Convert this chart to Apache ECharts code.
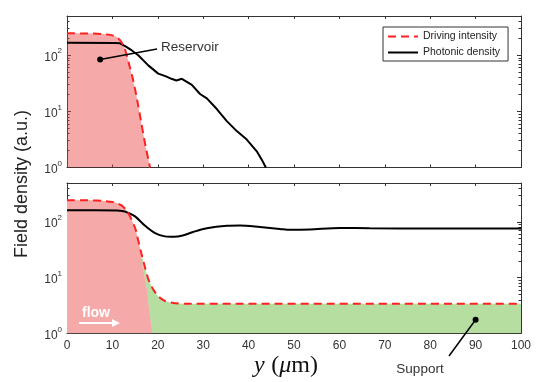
<!DOCTYPE html>
<html>
<head>
<meta charset="utf-8">
<script src="https://cdn.jsdelivr.net/npm/echarts@6/dist/echarts.min.js"></script>
<style>
  html, body { margin: 0; padding: 0; background: #fff; }
  #chart { width: 540px; height: 382px; }
</style>
</head>
<body>
<div id="chart"></div>
<script>
// position y in µm, field density in a.u.
const majorTicks = [1, 10, 100];
const minorTicks = [2, 3, 4, 5, 6, 7, 8, 9, 20, 30, 40, 50, 60, 70, 80, 90, 200, 300, 400, 500];

// top panel: reservoir only
const topDriving = [[0, 246], [5, 244], [8, 238], [10, 226], [11, 210], [11.8, 180], [12.5, 145],
  [13.1, 105], [13.7, 68], [14.5, 38], [15.4, 17], [16.4, 6], [17.3, 2.4], [17.9, 1.4], [18.3, 1]];
const topPhotonic = [[0, 167], [10.6, 166], [11.7, 163], [12.8, 145], [14.2, 123], [15.7, 100],
  [17.9, 66], [20.1, 47], [21.8, 42], [23, 38], [24.1, 35.5], [25.3, 38], [26.3, 34], [27.5, 29.6],
  [29.3, 20.4], [30.8, 17], [33, 11], [35.2, 6.7], [37.4, 4.45], [39.6, 3.15], [41.8, 1.94],
  [42.9, 1.38], [43.8, 1.0]];

// bottom panel: reservoir + support
const bottomReservoir = [[0, 246], [5, 244], [8, 238], [10, 228], [11, 218], [12, 198], [13, 165],
  [13.9, 125], [15.1, 72], [16.1, 32], [16.8, 14], [17.6, 6], [18.1, 2.6], [18.7, 1.15], [18.8, 1]];
const bottomDriving = [[0, 246], [5, 244], [8, 238], [10, 228], [11, 218], [12, 198], [13, 165],
  [13.9, 125], [15.1, 74], [15.6, 50], [16.4, 27], [17.2, 15], [17.9, 9.4], [19, 6.1], [20.1, 4.6],
  [21.6, 3.8], [23.4, 3.5], [26, 3.4], [100, 3.4]];
const bottomPhotonic = [[0, 162], [11, 161], [12.5, 155], [13.5, 145], [15, 126], [17.2, 85],
  [19.4, 63], [21.6, 55], [23.5, 54], [25.5, 57], [27.8, 66], [30.8, 77], [35.2, 85], [38.1, 86],
  [42.5, 81], [46.9, 75], [49.1, 72], [53.5, 73], [60.1, 78], [66.7, 77], [80, 76], [100, 76]];

const reservoirDot = [7.3, 84];
const supportDot = [90, 1.75];

const frame = '#333';
const sans = 'Liberation Sans, Arial, sans-serif';
const redFill = 'rgba(232, 60, 60, 0.44)';
const green = '#b6dea1';

const chart = echarts.init(document.getElementById('chart'));

const xAxisFor = (gridIndex, position, showLabels) => ({
  type: 'value', gridIndex, position, min: 0, max: 100, interval: 10,
  axisLine: { show: true, onZero: false, lineStyle: { color: frame, width: 1 } },
  axisTick: { show: true, inside: true, length: 3, lineStyle: { color: frame } },
  axisLabel: { show: showLabels, margin: 6, fontSize: 12, color: '#333', fontFamily: sans },
  splitLine: { show: false }
});

const yAxisFor = (gridIndex, position, minor) => ({
  type: 'log', logBase: 10, gridIndex, position, min: 1, max: 500,
  axisLine: { show: !minor, onZero: false, lineStyle: { color: frame, width: 1 } },
  axisTick: { show: true, inside: true, length: minor ? 2.5 : 4, lineStyle: { color: frame },
    customValues: minor ? minorTicks : majorTicks },
  axisLabel: {
    show: position === 'left' && !minor,
    customValues: majorTicks,
    margin: 5,
    formatter: v => '{b|10}{s|' + Math.round(Math.log10(v)) + '}',
    rich: {
      b: { fontSize: 12, color: '#333', fontFamily: sans, lineHeight: 16, verticalAlign: 'bottom' },
      s: { fontSize: 8, color: '#333', fontFamily: sans, lineHeight: 16, verticalAlign: 'top', padding: [0, 0, 8, 0] }
    }
  },
  splitLine: { show: false }
});

const lineSeries = (name, data, xi, yi, extra) => Object.assign({
  name, type: 'line', data, xAxisIndex: xi, yAxisIndex: yi,
  showSymbol: false, symbol: 'none', animation: false, silent: true
}, extra);

chart.setOption({
  animation: false,
  grid: [
    { left: 67, top: 16, width: 454, height: 151.5 },
    { left: 67, top: 183, width: 454, height: 150.3 }
  ],
  xAxis: [
    xAxisFor(0, 'bottom', false), xAxisFor(0, 'top', false),
    xAxisFor(1, 'bottom', true), xAxisFor(1, 'top', false)
  ],
  yAxis: [
    yAxisFor(0, 'left', false), yAxisFor(0, 'left', true),
    yAxisFor(0, 'right', false), yAxisFor(0, 'right', true),
    yAxisFor(1, 'left', false), yAxisFor(1, 'left', true),
    yAxisFor(1, 'right', false), yAxisFor(1, 'right', true)
  ],
  legend: {
    data: ['Driving intensity', 'Photonic density'],
    orient: 'vertical', left: 383, top: 27,
    padding: [4, 8, 3, 4], itemWidth: 30, itemHeight: 10, itemGap: 5,
    backgroundColor: '#fff', borderColor: frame, borderWidth: 1, borderRadius: 0,
    selectedMode: false,
    itemStyle: { opacity: 0 },
    textStyle: { fontSize: 10.5, color: '#222', fontFamily: sans }
  },
  series: [
    // top panel
    lineSeries('Photonic density', topPhotonic, 0, 0, { lineStyle: { color: '#000', width: 2 }, itemStyle: { color: '#000' } }),
    lineSeries('reservoir top', topDriving, 0, 0, { smooth: 0.2, lineStyle: { width: 0 }, areaStyle: { color: redFill, opacity: 1, origin: 'start' } }),
    lineSeries('Driving intensity', topDriving, 0, 0, { smooth: 0.2, lineStyle: { color: '#ff2020', width: 2, type: [8, 5] }, itemStyle: { color: '#ff2020' } }),
    // bottom panel
    lineSeries('support', bottomDriving, 2, 4, { smooth: 0.2, lineStyle: { width: 0 }, areaStyle: { color: green, opacity: 1, origin: 'start' } }),
    lineSeries('mask', bottomReservoir, 2, 4, { smooth: 0.2, lineStyle: { width: 0 }, areaStyle: { color: '#fff', opacity: 1, origin: 'start' } }),
    lineSeries('Photonic density', bottomPhotonic, 2, 4, { smooth: 0.3, lineStyle: { color: '#000', width: 2 }, itemStyle: { color: '#000' } }),
    lineSeries('reservoir bottom', bottomReservoir, 2, 4, { smooth: 0.2, lineStyle: { width: 0 }, areaStyle: { color: redFill, opacity: 1, origin: 'start' } }),
    lineSeries('Driving intensity', bottomDriving, 2, 4, { smooth: 0.2, lineStyle: { color: '#ff2020', width: 2, type: [8, 5] }, itemStyle: { color: '#ff2020' } })
  ]
});

// annotations, dots placed from data coordinates
const rDot = chart.convertToPixel({ xAxisIndex: 0, yAxisIndex: 0 }, reservoirDot);
const sDot = chart.convertToPixel({ xAxisIndex: 2, yAxisIndex: 4 }, supportDot);

chart.setOption({
  graphic: [
    {
      type: 'text', x: 22, y: 184, rotation: Math.PI / 2,
      style: { text: 'Field density (a.u.)', font: '18px ' + sans, fill: '#222', align: 'center', verticalAlign: 'middle' }
    },
    {
      type: 'text', x: 286, y: 366,
      style: {
        text: '{i|y}  {r|(}{i|μ}{r|m)}', align: 'center', verticalAlign: 'middle',
        rich: {
          i: { font: 'italic 24px Liberation Serif, serif', fill: '#111' },
          r: { font: '24px Liberation Serif, serif', fill: '#111' }
        }
      }
    },
    { type: 'line', shape: { x1: rDot[0], y1: rDot[1], x2: 157, y2: 49 }, style: { stroke: '#000', lineWidth: 1.5 }, z: 100 },
    { type: 'circle', shape: { cx: rDot[0], cy: rDot[1], r: 3 }, style: { fill: '#000' }, z: 100 },
    { type: 'text', x: 161, y: 47, style: { text: 'Reservoir', font: '13.5px ' + sans, fill: '#333', verticalAlign: 'middle' }, z: 100 },
    { type: 'line', shape: { x1: sDot[0], y1: sDot[1], x2: 449, y2: 356 }, style: { stroke: '#000', lineWidth: 1.5 }, z: 100 },
    { type: 'circle', shape: { cx: sDot[0], cy: sDot[1], r: 3 }, style: { fill: '#000' }, z: 100 },
    { type: 'text', x: 420, y: 369, style: { text: 'Support', font: '13.5px ' + sans, fill: '#333', align: 'center', verticalAlign: 'middle' }, z: 100 },
    { type: 'text', x: 96, y: 313, style: { text: 'flow', font: 'bold 14px ' + sans, fill: '#fff', align: 'center', verticalAlign: 'middle' }, z: 100 },
    { type: 'line', shape: { x1: 79, y1: 323, x2: 113, y2: 323 }, style: { stroke: '#fff', lineWidth: 2 }, z: 100 },
    { type: 'polygon', shape: { points: [[112, 319], [120, 323], [112, 327]] }, style: { fill: '#fff' }, z: 100 }
  ]
});
</script>
</body>
</html>
